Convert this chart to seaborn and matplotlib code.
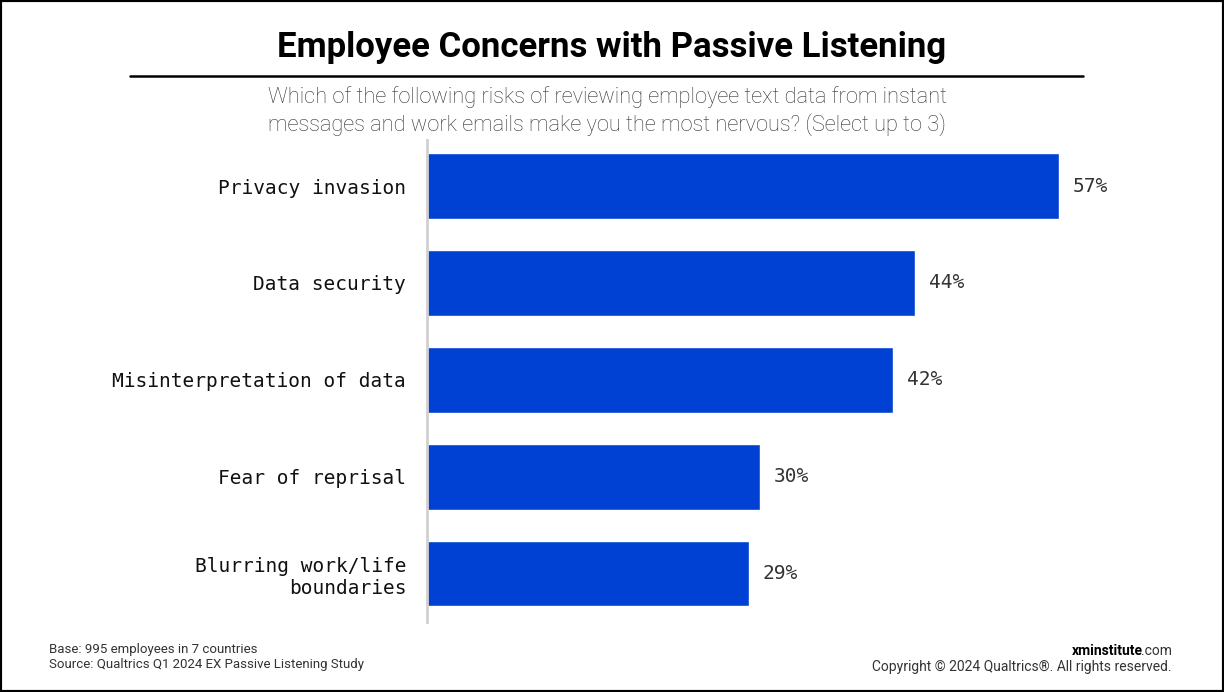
import pandas as pd
import matplotlib.pyplot as plt
import seaborn as sns
from matplotlib.patches import Rectangle

# Data
concerns = ['Privacy invasion', 'Data security', 'Misinterpretation of data',
            'Fear of reprisal', 'Blurring work/life\nboundaries']
share = [57, 44, 42, 30, 29]

BAR_BLUE = '#0041d4'

sns.set_theme(style="white")
plt.rcParams['font.family'] = ['Roboto', 'DejaVu Sans']

df = pd.DataFrame({'concern': concerns, 'share': share})

fig = plt.figure(figsize=(12.24, 6.92), dpi=100)
ax = fig.add_axes([427 / 1224, 1 - 622 / 692, (1100 - 427) / 1224, 482 / 692])

sns.barplot(data=df, y='concern', x='share', orient='h', color=BAR_BLUE,
            width=0.68, saturation=1, ax=ax)

ax.set_xlim(0, 60.7)
ax.set_ylim(4.5, -0.475)
ax.set_xlabel('')
ax.set_ylabel('')
ax.set_xticks([])
ax.tick_params(axis='y', length=0, pad=15)
for lbl in ax.get_yticklabels():
    lbl.set_fontfamily('DejaVu Sans Mono')
    lbl.set_fontsize(14)
    lbl.set_color('#111111')

for s in ['top', 'right', 'bottom']:
    ax.spines[s].set_visible(False)
ax.spines['left'].set_color('#d0d0d0')
ax.spines['left'].set_linewidth(2)

# Value labels
for i, v in enumerate(share):
    ax.annotate(f'{v}%', (v, i), xytext=(10, 0), textcoords='offset points',
                ha='left', va='center', fontsize=14,
                family='DejaVu Sans Mono', color='#333333')

# Title, rule and subtitle
fig.text(0.5, 1 - 47 / 692, 'Employee Concerns with Passive Listening',
         ha='center', va='center', fontsize=25, fontweight='bold', color='black')
fig.add_artist(plt.Line2D([130 / 1224, 1083 / 1224], [1 - 76 / 692, 1 - 76 / 692],
                          color='black', linewidth=1.8))
fig.text(607 / 1224, 1 - 111 / 692,
         'Which of the following risks of reviewing employee text data from instant\n'
         'messages and work emails make you the most nervous? (Select up to 3)',
         ha='center', va='center', fontsize=15.7, fontweight='light',
         color='#333333', linespacing=1.3)

# Footer
fig.text(49 / 1224, 1 - 657 / 692,
         'Base: 995 employees in 7 countries\nSource: Qualtrics Q1 2024 EX Passive Listening Study',
         ha='left', va='center', fontsize=9.5, color='#333333', linespacing=1.25)
fig.text(1172 / 1224, 1 - 667 / 692, 'Copyright © 2024 Qualtrics®. All rights reserved.',
         ha='right', va='center', fontsize=10, color='#333333')
t_com = fig.text(1172 / 1224, 1 - 651 / 692, '.com', ha='right', va='center',
                 fontsize=10, color='#333333')
fig.canvas.draw()
bb = t_com.get_window_extent()
fig.text((bb.x0 + 2) / 1224, 1 - 651 / 692, 'xminstitute', ha='right', va='center',
         fontsize=10, fontweight='bold', color='black')

# Frame around the figure
fig.add_artist(Rectangle((0, 0), 1, 1, transform=fig.transFigure, fill=False,
                         edgecolor='black', linewidth=3))

fig.savefig('out.png', dpi=100)
plt.close()
